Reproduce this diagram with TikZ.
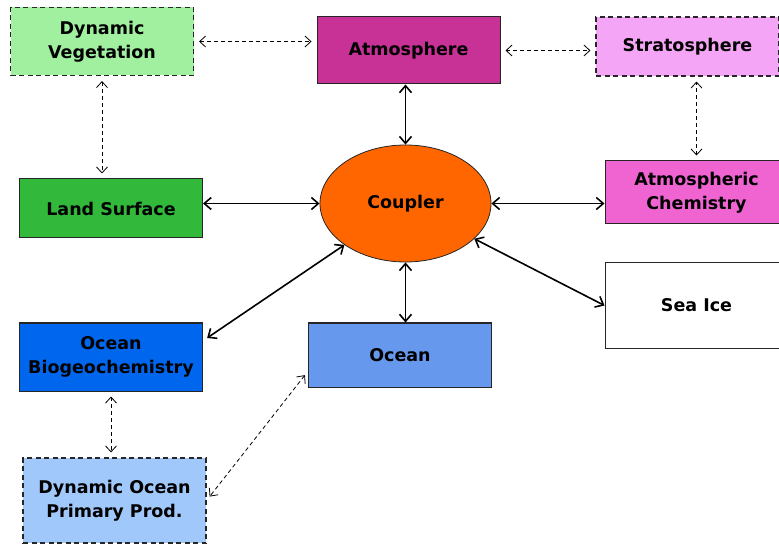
\documentclass[tikz,border=0pt]{standalone}
\usepackage{fontspec}
\setmainfont{DejaVu Sans}
\usetikzlibrary{positioning}
\usetikzlibrary{arrows.meta}
\usetikzlibrary{shapes}

\definecolor{vegGreen}{RGB}{160,240,160}
\definecolor{atmosMagenta}{RGB}{200,50,150}
\definecolor{stratoPink}{RGB}{245,165,245}
\definecolor{landGreen}{RGB}{50,185,60}
\definecolor{chemPink}{RGB}{240,100,210}
\definecolor{couplerOrange}{RGB}{255,102,0}
\definecolor{bgcBlue}{RGB}{0,102,238}
\definecolor{oceanBlue}{RGB}{102,153,238}
\definecolor{prodBlue}{RGB}{160,200,250}

\begin{document}
\begin{tikzpicture}[x=1pt, y=-1pt, >={Straight Barb[length=7pt,width=12pt]},
    every node/.style={font=\fontsize{17.5}{24}\selectfont\bfseries, align=center, inner sep=0pt},
    model/.style={rectangle, draw=black!85, line width=1pt, minimum width=183pt},
    optional/.style={model, dash pattern=on 5pt off 3.5pt, line width=1.1pt},
    couple/.style={<->, line width=1.6pt},
    feedback/.style={<->, dash pattern=on 4pt off 3pt, line width=0.8pt,
        >={Straight Barb[length=6pt,width=11pt]}, shorten <=5pt, shorten >=5pt}]
    \path[use as bounding box, clip] (0,0) rectangle (779,545);

    % the model components
    \node[optional, fill=vegGreen, minimum height=68pt] (dynveg) at (102,41.5) {Dynamic\\Vegetation};
    \node[model, fill=atmosMagenta, minimum height=67pt] (atmos) at (408.5,50.5) {Atmosphere};
    \node[optional, fill=stratoPink, minimum height=59pt] (strato) at (687.5,46.5) {Stratosphere};
    \node[model, fill=landGreen, minimum height=59pt] (land) at (111,208.5) {Land Surface};
    \node[ellipse, draw=black!85, line width=0.8pt, fill=couplerOrange,
        minimum width=171pt, minimum height=117pt] (coupler) at (405.5,203.5) {Coupler};
    \node[model, fill=chemPink, minimum height=63pt] (atmchem) at (696.5,192.5) {Atmospheric\\Chemistry};
    \node[model, fill=white, minimum height=85pt] (seaice) at (696.5,305.5) {Sea Ice};
    \node[model, fill=bgcBlue, minimum height=68pt] (oceanbgc) at (111,357) {Ocean\\Biogeochemistry};
    \node[model, fill=oceanBlue, minimum height=64pt] (ocean) at (400,355) {Ocean};
    \node[optional, fill=prodBlue, minimum height=85pt] (oceanprod) at (114.5,500.5) {Dynamic Ocean\\Primary Prod.};

    % coupled through the coupler
    \draw[couple] (atmos.south -| coupler) -- (coupler);
    \draw[couple] (coupler.west -| land.east) -- (coupler.west);
    \draw[couple] (coupler.east) -- (coupler.east -| atmchem.west);
    \draw[couple] (coupler) -- (seaice.west);
    \draw[couple, shorten >=5pt] (coupler) -- (oceanbgc.10);
    \draw[couple] (coupler) -- (coupler |- ocean.north);

    % the optional links
    \draw[feedback] (dynveg) -- (dynveg -| atmos.west);
    \draw[feedback] (atmos) -- (atmos -| strato.west);
    \draw[feedback] (dynveg) -- (dynveg |- land.north);
    \draw[feedback] (atmchem) -- (atmchem |- strato.south);
    \draw[feedback] (oceanbgc) -- (oceanbgc |- oceanprod.north);
    \draw[feedback] (ocean.190) -- (oceanprod.east);
\end{tikzpicture}
\end{document}
